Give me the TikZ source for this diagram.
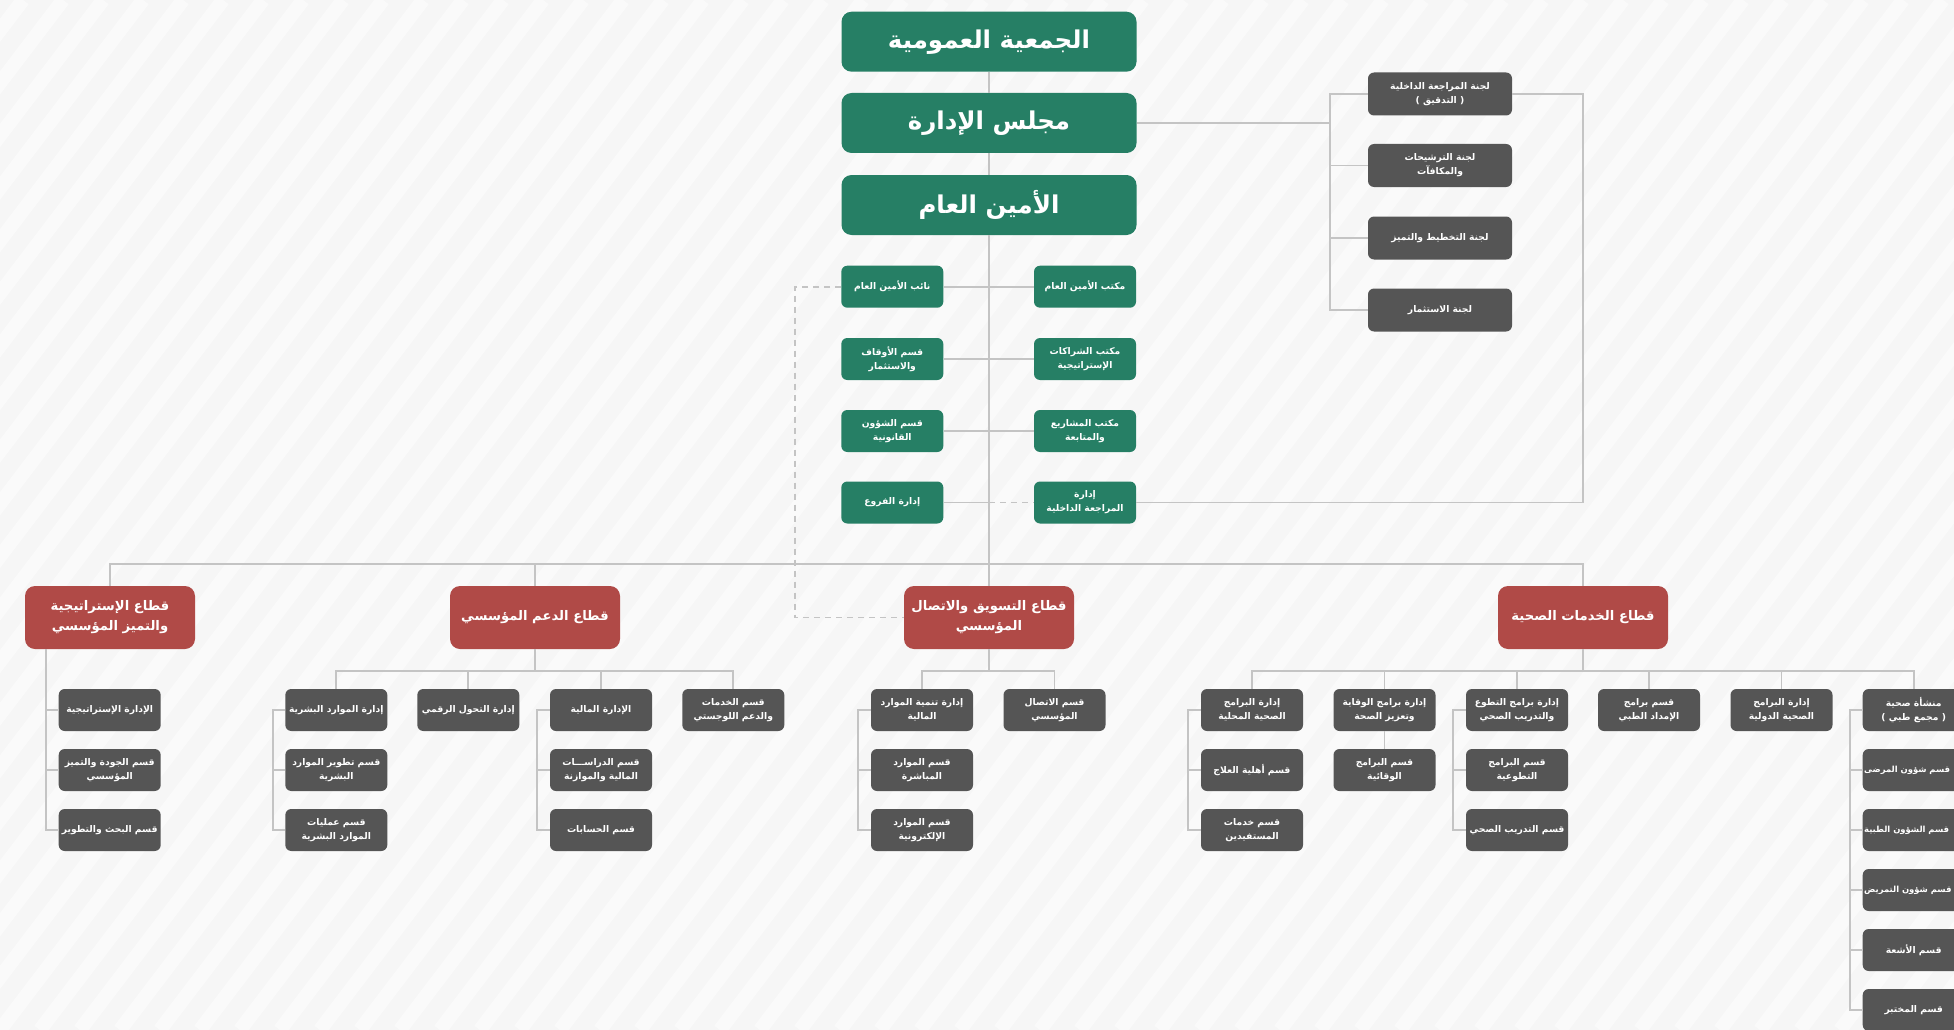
\documentclass[tikz,border=0pt]{standalone}
\usepackage{fontspec}
\newfontfamily\arabicfont[Script=Arabic]{DejaVu Sans}
\TeXXeTstate=1
\newcommand{\AR}[1]{\beginR #1\endR}
\definecolor{grn}{HTML}{267F65}
\definecolor{rd}{HTML}{B04A47}
\definecolor{dg}{HTML}{555555}
\definecolor{ln}{HTML}{C4C4C4}
\definecolor{bgc}{HTML}{F6F6F6}
\begin{document}
\begin{tikzpicture}[x=1pt,y=-1pt,
 box/.style={rounded corners=6pt, text=white, align=center, inner sep=0pt, font=\arabicfont\bfseries\fontsize{9.2}{14}\selectfont},
 gbig/.style={box, fill=grn, minimum width=295pt, minimum height=60pt, rounded corners=10pt, font=\arabicfont\bfseries\fontsize{24.5}{28}\selectfont},
 gsm/.style={box, fill=grn, minimum width=102pt, minimum height=42pt},
 com/.style={box, fill=dg, minimum width=144pt, minimum height=43pt},
 sec/.style={box, fill=rd, minimum width=170pt, minimum height=63pt, rounded corners=10pt, font=\arabicfont\bfseries\fontsize{13.2}{20}\selectfont},
 sub/.style={box, fill=dg, minimum width=102pt, minimum height=42pt},
 edgebox/.style={sub, align=flush left, text width=99pt, font=\arabicfont\bfseries\fontsize{8.4}{14}\selectfont},
 conn/.style={draw=ln, line width=1.8pt},
 dconn/.style={conn, dash pattern=on 6pt off 5pt},
]
\useasboundingbox (0,0) rectangle (1954,1030);
\clip (0,0) rectangle (1954,1030);
\fill[bgc] (0,0) rectangle (1954,1030);
\foreach \i in {-800,-760,...,1960} \draw[white, opacity=0.5, line width=14pt] (\i,1030) -- ++(783,-1030);

% top
\node[gbig] (gA) at (989,41.7) {\AR{الجمعية العمومية}};
\node[gbig] (gB) at (989,123) {\AR{مجلس الإدارة}};
\node[gbig] (gC) at (989,205) {\AR{الأمين العام}};

% committees
\node[com] (c1) at (1440,94) {\AR{لجنة المراجعة الداخلية}\\\AR{( التدقيق )}};
\node[com] (c2) at (1440,165.5) {\AR{لجنة الترشيحات}\\\AR{والمكافآت}};
\node[com] (c3) at (1440,238) {\AR{لجنة التخطيط والتميز}};
\node[com] (c4) at (1440,310) {\AR{لجنة الاستثمار}};

% middle green
\node[gsm] (l1) at (892.3,286.7) {\AR{نائب الأمين العام}};
\node[gsm] (l2) at (892.3,359) {\AR{قسم الأوقاف}\\\AR{والاستثمار}};
\node[gsm] (l3) at (892.3,431) {\AR{قسم الشؤون}\\\AR{القانونية}};
\node[gsm] (l4) at (892.3,502.5) {\AR{إدارة الفروع}};
\node[gsm] (r1) at (1085,286.7) {\AR{مكتب الأمين العام}};
\node[gsm] (r2) at (1085,359) {\AR{مكتب الشراكات}\\\AR{الإستراتيجية}};
\node[gsm] (r3) at (1085,431) {\AR{مكتب المشاريع}\\\AR{والمتابعة}};
\node[gsm] (r4) at (1085,502.5) {\AR{إدارة}\\\AR{المراجعة الداخلية}};

% sectors
\node[sec] (sStr) at (110,617.5) {\AR{قطاع الإستراتيجية}\\\AR{والتميز المؤسسي}};
\node[sec] (sSup) at (535,617.5) {\AR{قطاع الدعم المؤسسي}};
\node[sec] (sMkt) at (989,617.5) {\AR{قطاع التسويق والاتصال}\\\AR{المؤسسي}};
\node[sec] (sHea) at (1583,617.5) {\AR{قطاع الخدمات الصحية}};

% strategy children
\node[sub] (st1) at (109.7,710) {\AR{الإدارة الإستراتيجية}};
\node[sub] (st2) at (109.7,770) {\AR{قسم الجودة والتميز}\\\AR{المؤسسي}};
\node[sub] (st3) at (109.7,830) {\AR{قسم البحث والتطوير}};

% support children
\node[sub] (hr1) at (336.3,710) {\AR{إدارة الموارد البشرية}};
\node[sub] (hr2) at (336.3,770) {\AR{قسم تطوير الموارد}\\\AR{البشرية}};
\node[sub] (hr3) at (336.3,830) {\AR{قسم عمليات}\\\AR{الموارد البشرية}};
\node[sub] (dig) at (468.3,710) {\AR{إدارة التحول الرقمي}};
\node[sub] (fi1) at (601,710) {\AR{الإدارة المالية}};
\node[sub] (fi2) at (601,770) {\AR{قسم الدراســـات}\\\AR{المالية والموازنة}};
\node[sub] (fi3) at (601,830) {\AR{قسم الحسابات}};
\node[sub] (log) at (733.3,710) {\AR{قسم الخدمات}\\\AR{والدعم اللوجستي}};

% marketing children
\node[sub] (mk1) at (922,710) {\AR{إدارة تنمية الموارد}\\\AR{المالية}};
\node[sub] (mk2) at (922,770) {\AR{قسم الموارد}\\\AR{المباشرة}};
\node[sub] (mk3) at (922,830) {\AR{قسم الموارد}\\\AR{الإلكترونية}};
\node[sub] (mkc) at (1054.5,710) {\AR{قسم الاتصال}\\\AR{المؤسسي}};

% health children
\node[sub] (h1) at (1252,710) {\AR{إدارة البرامج}\\\AR{الصحية المحلية}};
\node[sub] (h1a) at (1252,770) {\AR{قسم أهلية العلاج}};
\node[sub] (h1b) at (1252,830) {\AR{قسم خدمات}\\\AR{المستفيدين}};
\node[sub] (h2) at (1384.5,710) {\AR{إدارة برامج الوقاية}\\\AR{وتعزيز الصحة}};
\node[sub] (h2a) at (1384.5,770) {\AR{قسم البرامج}\\\AR{الوقائية}};
\node[sub] (h3) at (1517,710) {\AR{إدارة برامج التطوع}\\\AR{والتدريب الصحي}};
\node[sub] (h3a) at (1517,770) {\AR{قسم البرامج}\\\AR{التطوعية}};
\node[sub] (h3b) at (1517,830) {\AR{قسم التدريب الصحي}};
\node[sub] (h4) at (1649,710) {\AR{قسم برامج}\\\AR{الإمداد الطبي}};
\node[sub] (h5) at (1781.5,710) {\AR{إدارة البرامج}\\\AR{الصحية الدولية}};
\node[sub] (hF) at (1913.7,710) {\AR{منشأة صحية}\\\AR{( مجمع طبي )}};
\node[edgebox] (f1) at (1913.7,770) {\AR{قسم شؤون المرضى}};
\node[edgebox] (f2) at (1913.7,830) {\AR{قسم الشؤون الطبية}};
\node[edgebox] (f3) at (1913.7,890) {\AR{قسم شؤون التمريض}};
\node[sub] (f4) at (1913.7,950) {\AR{قسم الأشعة}};
\node[sub] (f5) at (1913.7,1010) {\AR{قسم المختبر}};

% coordinates
\coordinate (bus) at (0,564);
\coordinate (sbus) at (0,671);
\coordinate (bCom) at (1330,0);
\coordinate (rCom) at (1583,0);
\coordinate (dL) at (795,0);
\coordinate (bStr) at (45.7,0);
\coordinate (bHR) at (272.7,0);
\coordinate (bFin) at (536.7,0);
\coordinate (bMk) at (858.3,0);
\coordinate (bH1) at (1188.3,0);
\coordinate (bH3) at (1453.3,0);
\coordinate (bF) at (1850,0);

% trunk
\draw[conn] (gA.south) -- (gB.north);
\draw[conn] (gB.south) -- (gC.north);
\draw[conn] (gC.south) -- (sMkt.north);

% committees
\draw[conn] (gB.east) -- (gB.east -| bCom);
\draw[conn] (c1.west) -- (c1.west -| bCom) |- (c4.west);
\draw[conn] (c2.west -| bCom) -- (c2.west);
\draw[conn] (c3.west -| bCom) -- (c3.west);
\draw[conn] (c1.east) -- (c1.east -| rCom) |- (r4.east);

% middle rows
\draw[conn] (l1.east) -- (r1.west);
\draw[conn] (l2.east) -- (r2.west);
\draw[conn] (l3.east) -- (r3.west);
\draw[conn] (l4.east) -- (l4.east -| gC.south);
\draw[dconn] (l4.east -| gC.south) -- (r4.west);
\draw[dconn] (l1.west) -- (l1.west -| dL) |- (sMkt.west);

% bus
\draw[conn] (sStr.north) -- (sStr.north |- bus) -- (sHea.north |- bus) -- (sHea.north);
\draw[conn] (sSup.north) -- (sSup.north |- bus);

% strategy
\draw[conn] (sStr.south -| bStr) |- (st3.west);
\draw[conn] (st1.west -| bStr) -- (st1.west);
\draw[conn] (st2.west -| bStr) -- (st2.west);

% support
\draw[conn] (sSup.south) -- (sSup.south |- sbus);
\draw[conn] (hr1.north) -- (hr1.north |- sbus) -- (log.north |- sbus) -- (log.north);
\draw[conn] (dig.north) -- (dig.north |- sbus);
\draw[conn] (fi1.north) -- (fi1.north |- sbus);
\draw[conn] (hr1.west) -- (hr1.west -| bHR) |- (hr3.west);
\draw[conn] (hr2.west -| bHR) -- (hr2.west);
\draw[conn] (fi1.west) -- (fi1.west -| bFin) |- (fi3.west);
\draw[conn] (fi2.west -| bFin) -- (fi2.west);

% marketing
\draw[conn] (sMkt.south) -- (sMkt.south |- sbus);
\draw[conn] (mk1.north) -- (mk1.north |- sbus) -- (mkc.north |- sbus) -- (mkc.north);
\draw[conn] (mk1.west) -- (mk1.west -| bMk) |- (mk3.west);
\draw[conn] (mk2.west -| bMk) -- (mk2.west);

% health
\draw[conn] (sHea.south) -- (sHea.south |- sbus);
\draw[conn] (h1.north) -- (h1.north |- sbus) -- (hF.north |- sbus) -- (hF.north);
\draw[conn] (h2.north) -- (h2.north |- sbus);
\draw[conn] (h3.north) -- (h3.north |- sbus);
\draw[conn] (h4.north) -- (h4.north |- sbus);
\draw[conn] (h5.north) -- (h5.north |- sbus);
\draw[conn] (h1.west) -- (h1.west -| bH1) |- (h1b.west);
\draw[conn] (h1a.west -| bH1) -- (h1a.west);
\draw[conn] (h2.south) -- (h2a.north);
\draw[conn] (h3.west) -- (h3.west -| bH3) |- (h3b.west);
\draw[conn] (h3a.west -| bH3) -- (h3a.west);
\draw[conn] (hF.west) -- (hF.west -| bF) |- (f5.west);
\foreach \n in {f1,f2,f3,f4} \draw[conn] (\n.west -| bF) -- (\n.west);
\end{tikzpicture}
\end{document}
